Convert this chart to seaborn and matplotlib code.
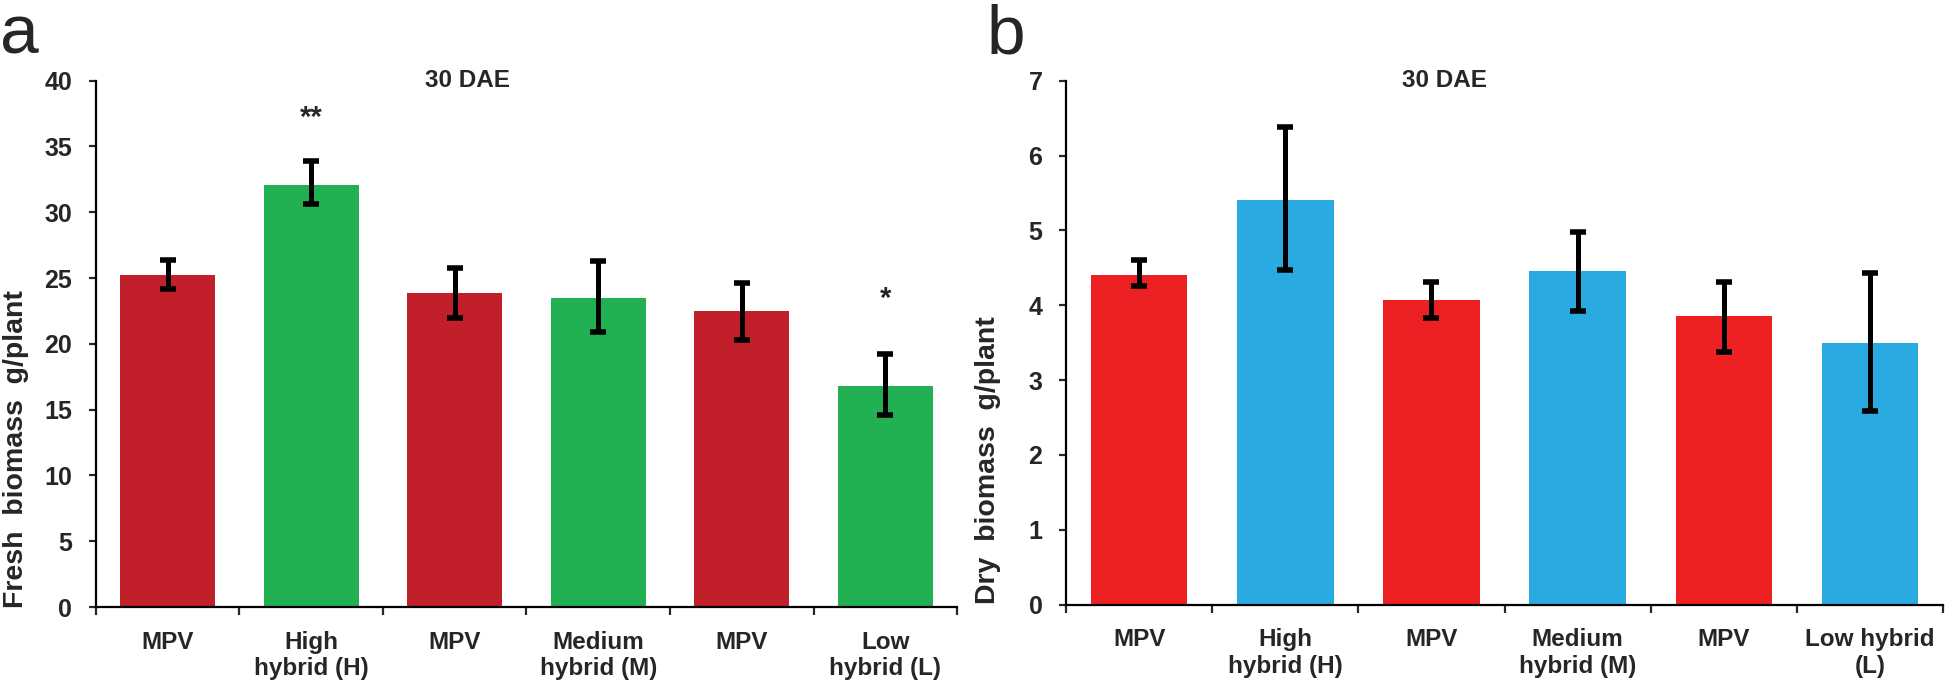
import matplotlib
matplotlib.use("Agg")
import matplotlib.pyplot as plt
import seaborn as sns
import pandas as pd
from matplotlib.ticker import FixedLocator

# ---- data ----
labels_a = ["MPV", "High\nhybrid (H)", "MPV", "Medium\nhybrid (M)", "MPV", "Low\nhybrid (L)"]
labels_b = ["MPV", "High\nhybrid (H)", "MPV", "Medium\nhybrid (M)", "MPV", "Low hybrid\n(L)"]

fresh = [25.2, 32.1, 23.9, 23.5, 22.5, 16.8]
fresh_lo = [24.2, 30.6, 22.0, 20.9, 20.3, 14.6]
fresh_hi = [26.4, 33.9, 25.8, 26.3, 24.6, 19.2]
fresh_sig = ["", "**", "", "", "", "*"]
fresh_sig_y = [0, 37.2, 0, 0, 0, 23.4]

dry = [4.40, 5.41, 4.07, 4.46, 3.86, 3.49]
dry_lo = [4.26, 4.47, 3.83, 3.92, 3.37, 2.59]
dry_hi = [4.60, 6.38, 4.31, 4.98, 4.31, 4.43]

colors_a = ["#C1202A", "#21B052", "#C1202A", "#21B052", "#C1202A", "#21B052"]
colors_b = ["#ED2024", "#29ABE2", "#ED2024", "#29ABE2", "#ED2024", "#29ABE2"]

sns.set_style("white")
plt.rcParams["font.family"] = ["Liberation Sans", "DejaVu Sans"]
plt.rcParams["font.weight"] = "bold"

fig = plt.figure(figsize=(19.46, 6.88), dpi=100)
ax_a = fig.add_axes([0.0493, 0.1177, 0.4425, 0.765])
ax_b = fig.add_axes([0.5478, 0.1211, 0.4507, 0.7616])


def draw_panel(ax, vals, lo, hi, colors, labels, ymax, ylabel):
    df = pd.DataFrame({"pos": list(range(len(vals))), "val": vals})
    sns.barplot(data=df, x="pos", y="val", hue="pos", palette=colors, legend=False,
                width=0.66, ax=ax, errorbar=None, saturation=1, edgecolor="none")
    yerr = [[v - l for v, l in zip(vals, lo)], [h - v for v, h in zip(vals, hi)]]
    ax.errorbar(range(len(vals)), vals, yerr=yerr, fmt="none", ecolor="black",
                elinewidth=3.6, capsize=5.5, capthick=4, zorder=5)
    ax.set_xlim(-0.5, len(vals) - 0.5)
    ax.set_ylim(0, ymax)
    sns.despine(ax=ax)
    for s in ["left", "bottom"]:
        ax.spines[s].set_linewidth(1.6)
        ax.spines[s].set_color("black")
    ax.set_xticks(range(len(vals)))
    ax.set_xticklabels(labels, fontsize=17.5, fontweight="bold", linespacing=1.2)
    ax.xaxis.set_minor_locator(FixedLocator([i - 0.5 for i in range(len(vals) + 1)]))
    ax.tick_params(axis="x", which="major", length=0, pad=17)
    ax.tick_params(axis="x", which="minor", length=6, width=1.6, direction="out", bottom=True)
    ax.tick_params(axis="y", length=5, width=1.6, direction="out", left=True, pad=12,
                   labelsize=18)
    for t in ax.get_yticklabels():
        t.set_fontweight("bold")
    ax.set_xlabel("")
    ax.set_ylabel(ylabel, fontsize=20.5, fontweight="bold")
    ax.set_title("")
    ax.text(0.432, 1.0, "30 DAE", transform=ax.transAxes, ha="center", va="center",
            fontsize=17.5, fontweight="bold")


draw_panel(ax_a, fresh, fresh_lo, fresh_hi, colors_a, labels_a, 40,
           "Fresh  biomass  g/plant")
ax_a.set_yticks(range(0, 41, 5))
ax_a.yaxis.set_label_coords(-0.078, 0.30)
for i, (s, y) in enumerate(zip(fresh_sig, fresh_sig_y)):
    if s:
        ax_a.text(i, y, s, ha="center", va="center", fontsize=21, fontweight="bold")

draw_panel(ax_b, dry, dry_lo, dry_hi, colors_b, labels_b, 7,
           "Dry  biomass  g/plant")
ax_b.set_yticks(range(0, 8))
ax_b.yaxis.set_label_coords(-0.074, 0.275)

fig.text(0.0, 0.995, "a", fontsize=50, fontweight="normal", ha="left", va="top")
fig.text(0.507, 0.995, "b", fontsize=50, fontweight="normal", ha="left", va="top")

fig.savefig("out.png", dpi=100)
